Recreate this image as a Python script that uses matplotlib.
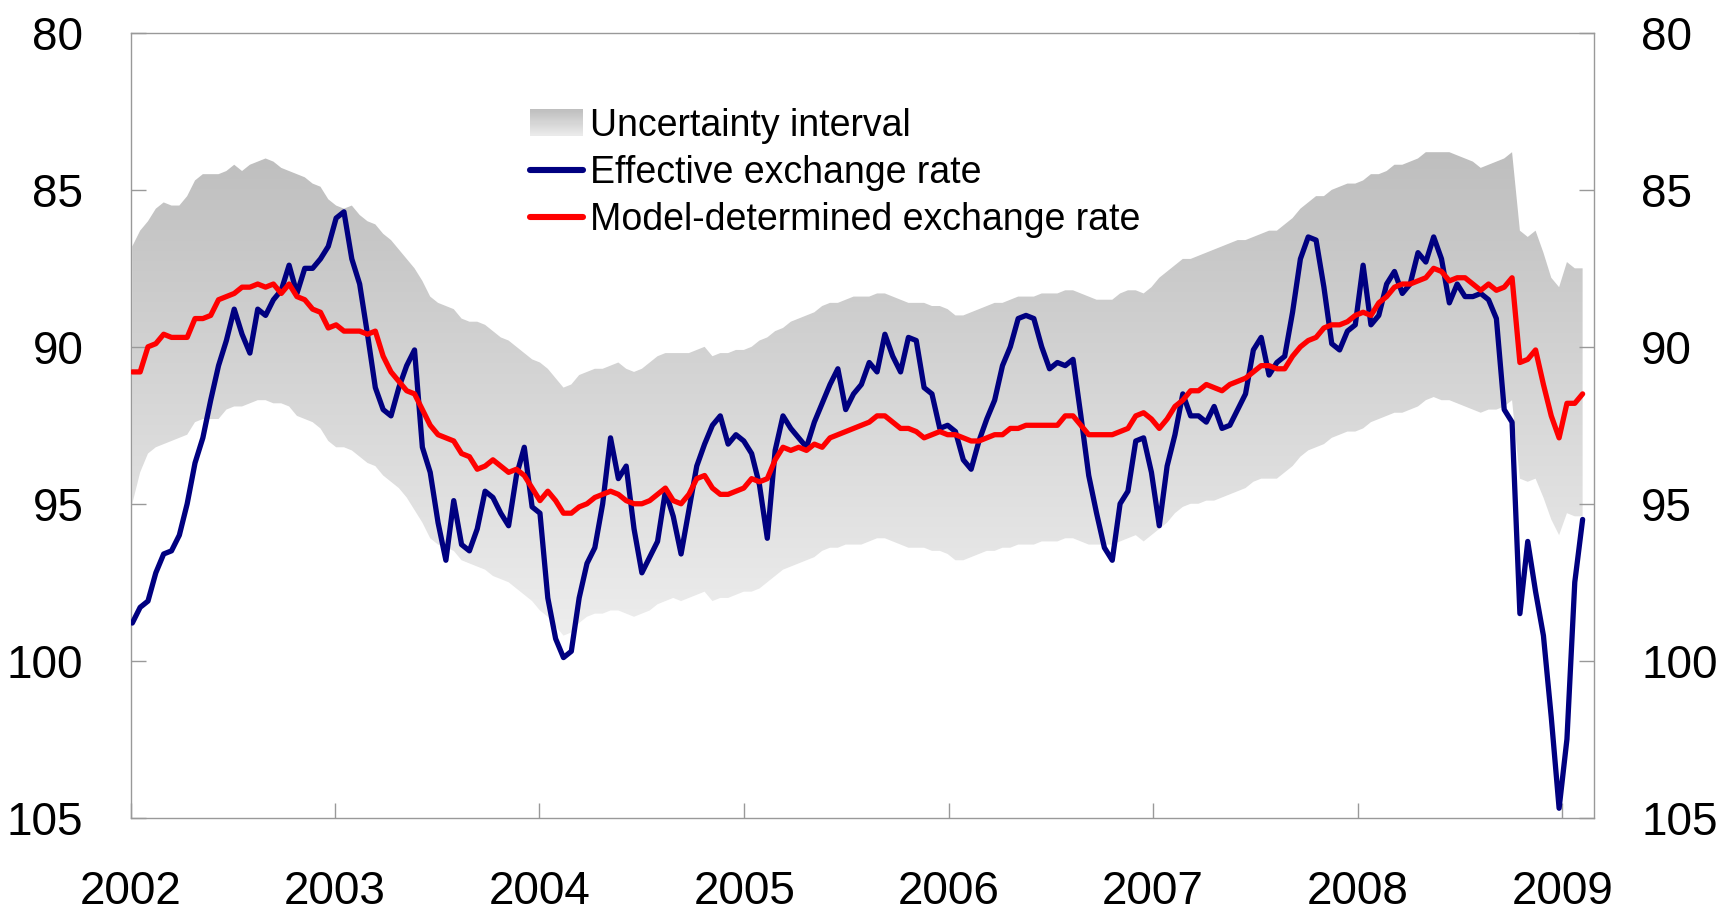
import numpy as np
import pandas as pd
import matplotlib
matplotlib.use("Agg")
import matplotlib.pyplot as plt
import matplotlib.dates as mdates
from matplotlib.lines import Line2D
from matplotlib.patches import Rectangle
from matplotlib.legend_handler import HandlerBase

plt.rcParams["font.family"] = ["Liberation Sans", "DejaVu Sans"]

# biweekly observations, first one on 4 Jan 2002
start_date = "2002-01-04"

effective_rate = [
    98.8, 98.3, 98.1, 97.2, 96.6, 96.5, 96.0, 95.0, 93.7, 92.9,
    91.7, 90.6, 89.8, 88.8, 89.6, 90.2, 88.8, 89.0, 88.5, 88.2,
    87.4, 88.3, 87.5, 87.5, 87.2, 86.8, 85.9, 85.7, 87.2, 88.0,
    89.6, 91.3, 92.0, 92.2, 91.3, 90.6, 90.1, 93.2, 94.0, 95.6,
    96.8, 94.9, 96.3, 96.5, 95.8, 94.6, 94.8, 95.3, 95.7, 94.1,
    93.2, 95.1, 95.3, 98.0, 99.3, 99.9, 99.7, 98.0, 96.9, 96.4,
    95.0, 92.9, 94.2, 93.8, 95.8, 97.2, 96.7, 96.2, 94.6, 95.4,
    96.6, 95.2, 93.8, 93.1, 92.5, 92.2, 93.1, 92.8, 93.0, 93.4,
    94.4, 96.1, 93.3, 92.2, 92.6, 92.9, 93.2, 92.4, 91.8, 91.2,
    90.7, 92.0, 91.5, 91.2, 90.5, 90.8, 89.6, 90.3, 90.8, 89.7,
    89.8, 91.3, 91.5, 92.6, 92.5, 92.7, 93.6, 93.9, 93.0, 92.3,
    91.7, 90.6, 90.0, 89.1, 89.0, 89.1, 90.0, 90.7, 90.5, 90.6,
    90.4, 92.2, 94.1, 95.3, 96.4, 96.8, 95.0, 94.6, 93.0, 92.9,
    94.0, 95.7, 93.8, 92.8, 91.5, 92.2, 92.2, 92.4, 91.9, 92.6,
    92.5, 92.0, 91.5, 90.1, 89.7, 90.9, 90.5, 90.3, 88.9, 87.2,
    86.5, 86.6, 88.1, 89.9, 90.1, 89.5, 89.3, 87.4, 89.3, 89.0,
    88.0, 87.6, 88.3, 88.0, 87.0, 87.3, 86.5, 87.2, 88.6, 88.0,
    88.4, 88.4, 88.3, 88.5, 89.1, 92.0, 92.4, 98.5, 96.2, 97.8,
    99.2, 101.8, 104.7, 102.5, 97.5, 95.5,
]

model_rate = [
    90.8, 90.8, 90.0, 89.9, 89.6, 89.7, 89.7, 89.7, 89.1, 89.1,
    89.0, 88.5, 88.4, 88.3, 88.1, 88.1, 88.0, 88.1, 88.0, 88.3,
    88.0, 88.4, 88.5, 88.8, 88.9, 89.4, 89.3, 89.5, 89.5, 89.5,
    89.6, 89.5, 90.3, 90.8, 91.1, 91.4, 91.5, 92.0, 92.5, 92.8,
    92.9, 93.0, 93.4, 93.5, 93.9, 93.8, 93.6, 93.8, 94.0, 93.9,
    94.1, 94.5, 94.9, 94.6, 94.9, 95.3, 95.3, 95.1, 95.0, 94.8,
    94.7, 94.6, 94.7, 94.9, 95.0, 95.0, 94.9, 94.7, 94.5, 94.9,
    95.0, 94.7, 94.2, 94.1, 94.5, 94.7, 94.7, 94.6, 94.5, 94.2,
    94.3, 94.2, 93.6, 93.2, 93.3, 93.2, 93.3, 93.1, 93.2, 92.9,
    92.8, 92.7, 92.6, 92.5, 92.4, 92.2, 92.2, 92.4, 92.6, 92.6,
    92.7, 92.9, 92.8, 92.7, 92.8, 92.8, 92.9, 93.0, 93.0, 92.9,
    92.8, 92.8, 92.6, 92.6, 92.5, 92.5, 92.5, 92.5, 92.5, 92.2,
    92.2, 92.5, 92.8, 92.8, 92.8, 92.8, 92.7, 92.6, 92.2, 92.1,
    92.3, 92.6, 92.3, 91.9, 91.7, 91.4, 91.4, 91.2, 91.3, 91.4,
    91.2, 91.1, 91.0, 90.8, 90.6, 90.6, 90.7, 90.7, 90.3, 90.0,
    89.8, 89.7, 89.4, 89.3, 89.3, 89.2, 89.0, 88.9, 89.0, 88.6,
    88.4, 88.1, 88.0, 88.0, 87.9, 87.8, 87.5, 87.6, 87.9, 87.8,
    87.8, 88.0, 88.2, 88.0, 88.2, 88.1, 87.8, 90.5, 90.4, 90.1,
    91.2, 92.2, 92.9, 91.8, 91.8, 91.5,
]

band_upper = [
    86.8, 86.3, 86.0, 85.6, 85.4, 85.5, 85.5, 85.2, 84.7, 84.5,
    84.5, 84.5, 84.4, 84.2, 84.4, 84.2, 84.1, 84.0, 84.1, 84.3,
    84.4, 84.5, 84.6, 84.8, 84.9, 85.3, 85.5, 85.6, 85.5, 85.8,
    86.0, 86.1, 86.4, 86.6, 86.9, 87.2, 87.5, 87.9, 88.4, 88.6,
    88.7, 88.8, 89.1, 89.2, 89.2, 89.3, 89.5, 89.7, 89.8, 90.0,
    90.2, 90.4, 90.5, 90.7, 91.0, 91.3, 91.2, 90.9, 90.8, 90.7,
    90.7, 90.6, 90.5, 90.7, 90.8, 90.7, 90.5, 90.3, 90.2, 90.2,
    90.2, 90.2, 90.1, 90.0, 90.3, 90.2, 90.2, 90.1, 90.1, 90.0,
    89.8, 89.7, 89.5, 89.4, 89.2, 89.1, 89.0, 88.9, 88.7, 88.6,
    88.6, 88.5, 88.4, 88.4, 88.4, 88.3, 88.3, 88.4, 88.5, 88.6,
    88.6, 88.6, 88.7, 88.7, 88.8, 89.0, 89.0, 88.9, 88.8, 88.7,
    88.6, 88.6, 88.5, 88.4, 88.4, 88.4, 88.3, 88.3, 88.3, 88.2,
    88.2, 88.3, 88.4, 88.5, 88.5, 88.5, 88.3, 88.2, 88.2, 88.3,
    88.1, 87.8, 87.6, 87.4, 87.2, 87.2, 87.1, 87.0, 86.9, 86.8,
    86.7, 86.6, 86.6, 86.5, 86.4, 86.3, 86.3, 86.1, 85.9, 85.6,
    85.4, 85.2, 85.2, 85.0, 84.9, 84.8, 84.8, 84.7, 84.5, 84.5,
    84.4, 84.2, 84.2, 84.1, 84.0, 83.8, 83.8, 83.8, 83.8, 83.9,
    84.0, 84.1, 84.3, 84.2, 84.1, 84.0, 83.8, 86.3, 86.5, 86.3,
    87.0, 87.8, 88.1, 87.3, 87.5, 87.5,
]

band_lower = [
    95.0, 94.0, 93.4, 93.2, 93.1, 93.0, 92.9, 92.8, 92.4, 92.3,
    92.3, 92.3, 92.0, 91.9, 91.9, 91.8, 91.7, 91.7, 91.8, 91.8,
    91.9, 92.2, 92.3, 92.4, 92.6, 93.0, 93.2, 93.2, 93.3, 93.5,
    93.7, 93.8, 94.1, 94.3, 94.5, 94.8, 95.2, 95.6, 96.1, 96.3,
    96.4, 96.5, 96.8, 96.9, 97.0, 97.1, 97.3, 97.4, 97.5, 97.7,
    97.9, 98.1, 98.4, 98.6, 98.9, 99.2, 99.1, 98.8, 98.6, 98.5,
    98.5, 98.4, 98.4, 98.5, 98.6, 98.5, 98.4, 98.2, 98.1, 98.0,
    98.1, 98.0, 97.9, 97.8, 98.1, 98.0, 98.0, 97.9, 97.8, 97.8,
    97.7, 97.5, 97.3, 97.1, 97.0, 96.9, 96.8, 96.7, 96.5, 96.4,
    96.4, 96.3, 96.3, 96.3, 96.2, 96.1, 96.1, 96.2, 96.3, 96.4,
    96.4, 96.4, 96.5, 96.5, 96.6, 96.8, 96.8, 96.7, 96.6, 96.5,
    96.5, 96.4, 96.4, 96.3, 96.3, 96.3, 96.2, 96.2, 96.2, 96.1,
    96.1, 96.2, 96.3, 96.3, 96.3, 96.3, 96.2, 96.1, 96.0, 96.2,
    96.0, 95.8, 95.6, 95.3, 95.1, 95.0, 95.0, 94.9, 94.9, 94.8,
    94.7, 94.6, 94.5, 94.3, 94.2, 94.2, 94.2, 94.0, 93.8, 93.5,
    93.3, 93.2, 93.1, 92.9, 92.8, 92.7, 92.7, 92.6, 92.4, 92.3,
    92.2, 92.1, 92.1, 92.0, 91.9, 91.7, 91.6, 91.7, 91.7, 91.8,
    91.9, 92.0, 92.1, 92.0, 92.0, 91.9, 91.7, 94.2, 94.3, 94.2,
    94.8, 95.5, 96.0, 95.3, 95.4, 95.4,
]

years = list(range(2002, 2010))
y_ticks = [80, 85, 90, 95, 100, 105]

dates = pd.date_range(start_date, periods=len(effective_rate), freq="14D")
x = mdates.date2num(dates)

BLUE = "#000080"
RED = "#ff0000"
SPINE = "#999999"


def gray_for(v):
    # vertical shading of the band, darker towards the top of the chart
    g = 188 + (np.asarray(v) - 83.0) * (240 - 188) / 17.0
    return np.clip(g, 185, 242) / 255.0


class GradientHandler(HandlerBase):
    def create_artists(self, legend, orig_handle, xdescent, ydescent,
                       width, height, fontsize, trans):
        n = 24
        out = []
        for i in range(n):
            g = float(gray_for(84 + 14 * i / (n - 1)))
            r = Rectangle((-xdescent, -ydescent + height * (1 - (i + 1) / n)),
                          width, height / n + 0.3, facecolor=(g, g, g),
                          edgecolor="none", transform=trans)
            out.append(r)
        return out


fig = plt.figure(figsize=(17.21, 9.14), dpi=100)
ax = fig.add_axes([0.0759, 0.1054, 0.8502, 0.8586])

x0 = mdates.date2num(pd.Timestamp("2002-01-01"))
x1 = mdates.date2num(pd.Timestamp("2009-02-26"))

# uncertainty band: gradient image clipped to the band polygon
poly = ax.fill_between(x, band_upper, band_lower, facecolor="none",
                       edgecolor="none")
vals = np.linspace(80, 105, 400)
shade = gray_for(vals)
img = np.repeat(shade[:, None], 2, axis=1)
img = np.dstack([img, img, img])
im = ax.imshow(img, extent=(x0, x1, 105, 80), aspect="auto",
               interpolation="bilinear", zorder=1)
im.set_clip_path(poly.get_paths()[0], transform=ax.transData)

ax.plot(x, effective_rate, color=BLUE, lw=3.8, zorder=3,
        solid_joinstyle="round", solid_capstyle="round")
ax.plot(x, model_rate, color=RED, lw=3.8, zorder=4,
        solid_joinstyle="round", solid_capstyle="round")

ax.set_xlim(x0, x1)
ax.set_ylim(105, 80)
ax.set_yticks(y_ticks)
ax.set_yticklabels([str(t) for t in y_ticks])
ax.set_xticks([mdates.date2num(pd.Timestamp(f"{y}-01-01")) for y in years])
ax.set_xticklabels([str(y) for y in years])

for s in ax.spines.values():
    s.set_color(SPINE)
    s.set_linewidth(1.0)

ax.tick_params(axis="y", direction="in", length=11, width=1.0, color=SPINE,
               labelsize=33, pad=34, left=True, right=True,
               labelleft=True, labelright=True)
ax.tick_params(axis="x", direction="in", length=11, width=1.0, color=SPINE,
               labelsize=33, pad=38)

handles = [
    Rectangle((0, 0), 1, 1),
    Line2D([], [], color=BLUE, lw=4.4, solid_capstyle="round"),
    Line2D([], [], color=RED, lw=4.4, solid_capstyle="round"),
]
labels = ["Uncertainty interval", "Effective exchange rate",
          "Model-determined exchange rate"]
leg = ax.legend(handles, labels, loc="upper left",
                bbox_to_anchor=(530 / 1721, 1 - 108 / 914),
                bbox_transform=fig.transFigure, frameon=False,
                fontsize=27, handlelength=1.4, handleheight=0.7,
                handletextpad=0.2, labelspacing=0.29, borderpad=0,
                borderaxespad=0,
                handler_map={Rectangle: GradientHandler()})
leg.set_zorder(5)

fig.savefig("out.png", dpi=100)
